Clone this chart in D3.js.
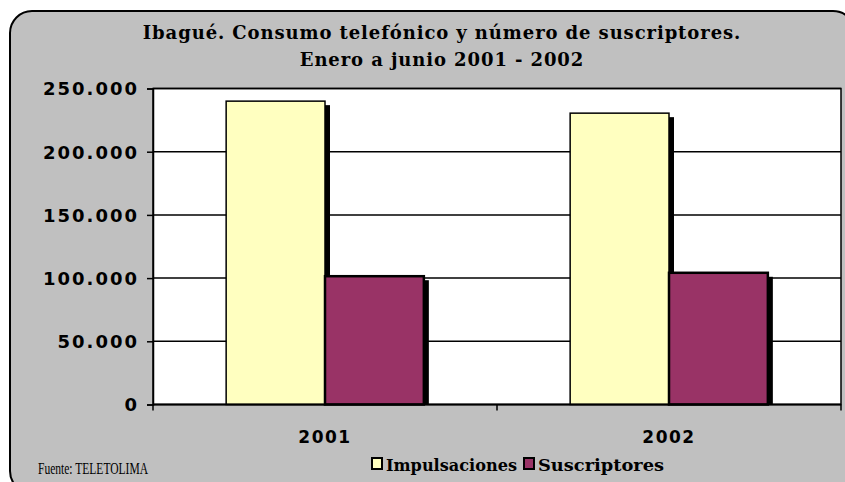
<!DOCTYPE html>
<meta charset="utf-8">
<style>
body{ margin:0; background:#fff; }
.titulo{ font-family:"DejaVu Serif", serif; font-weight:bold; font-size:18px; letter-spacing:0.9px; }
.eje text{ font-family:"DejaVu Sans", sans-serif; font-weight:bold; font-size:18px; letter-spacing:2px; }
</style>
<svg id="chart" width="845" height="482"></svg>
<script src="https://d3js.org/d3.v7.min.js"></script>
<script>

var years = ["2001","2002"];
var series = ["Impulsaciones","Suscriptores"];
var impulsaciones = [240000, 230500];
var suscriptores = [101500, 104200];
var yTicks = [0, 50000, 100000, 150000, 200000, 250000];
var colores = ["#ffffc0","#993366"];

var svg = d3.select("#chart");

// marco gris redondeado
svg.append("rect")
  .attr("x",10).attr("y",11)
  .attr("width",845).attr("height",482)
  .attr("rx",22).attr("ry",22)
  .attr("fill","#c0c0c0")
  .attr("stroke","#000")
  .attr("stroke-width",2);

svg.append("text").attr("class","titulo")
  .attr("x",442).attr("y",39).attr("text-anchor","middle")
  .text("Ibagué. Consumo telefónico y número de suscriptores.");
svg.append("text").attr("class","titulo")
  .attr("x",442).attr("y",66).attr("text-anchor","middle")
  .text("Enero a junio 2001 - 2002");

var pLeft = 153, pRight = 841, pTop = 88.5, pBottom = 404.5;

var y = d3.scaleLinear().domain([0,250000]).range([pBottom, pTop]);
var x0 = d3.scaleBand().domain(years).range([pLeft, pRight]).padding(0);
var x1 = d3.scaleBand().domain(series).range([0, x0.bandwidth()])
  .paddingInner(0).paddingOuter(0.74);

svg.append("rect")
  .attr("x",pLeft).attr("y",pTop)
  .attr("width",pRight-pLeft).attr("height",pBottom-pTop)
  .attr("fill","#fff")
  .attr("stroke","#000").attr("stroke-width",1.5);

// lineas de division
svg.append("g").selectAll("line")
  .data(yTicks.slice(1))
  .enter().append("line")
  .attr("x1",pLeft).attr("x2",pRight)
  .attr("y1",function(d){ return y(d); })
  .attr("y2",function(d){ return y(d); })
  .attr("stroke","#000").attr("stroke-width",1.5);

var datos = years.map(function(yr,i){
  return {year:yr, values:[impulsaciones[i], suscriptores[i]]};
});

var grupos = svg.append("g").selectAll("g")
  .data(datos)
  .enter().append("g")
  .attr("transform",function(d){ return "translate(" + x0(d.year) + ",0)"; });

// sombras
grupos.selectAll(".sombra")
  .data(function(d){ return d.values.map(function(v,j){ return {s:series[j], v:v}; }); })
  .enter().append("rect")
  .attr("class","sombra")
  .attr("x",function(d){ return x1(d.s) + 5; })
  .attr("y",function(d){ return y(d.v) + 4; })
  .attr("width",x1.bandwidth())
  .attr("height",function(d){ return Math.max(0, pBottom - y(d.v) - 4); })
  .attr("fill","#000");

grupos.selectAll(".barra")
  .data(function(d){ return d.values.map(function(v,j){ return {s:series[j], v:v, j:j}; }); })
  .enter().append("rect")
  .attr("class","barra")
  .attr("x",function(d){ return x1(d.s); })
  .attr("y",function(d){ return y(d.v); })
  .attr("width",x1.bandwidth())
  .attr("height",function(d){ return pBottom - y(d.v); })
  .attr("fill",function(d){ return colores[d.j]; })
  .attr("stroke","#000")
  .attr("stroke-width",function(d){ return d.j==1 ? 2.5 : 1.5; });

// eje y
var ejeY = svg.append("g").attr("class","eje")
  .attr("transform","translate(" + pLeft + ",0)")
  .call(d3.axisLeft(y).tickValues(yTicks).tickSize(6).tickPadding(8)
    .tickFormat(function(d){ return d3.format(",")(d).replace(/,/g,"."); }));
ejeY.select(".domain").attr("stroke-width",1.5);
ejeY.selectAll(".tick line").attr("stroke-width",1.5);
ejeY.selectAll("text").attr("dy","0.36em").attr("fill","#000");

// eje x: marcas en los limites de las categorias
svg.append("line")
  .attr("x1",pLeft).attr("x2",pRight)
  .attr("y1",pBottom).attr("y2",pBottom)
  .attr("stroke","#000").attr("stroke-width",2);
var bordes = years.map(function(d){ return x0(d); }).concat([pRight]);
svg.append("g").selectAll("line")
  .data(bordes)
  .enter().append("line")
  .attr("x1",function(d){ return d; }).attr("x2",function(d){ return d; })
  .attr("y1",pBottom).attr("y2",pBottom+6)
  .attr("stroke","#000").attr("stroke-width",1.5);

svg.append("g").attr("class","eje").selectAll("text")
  .data(years)
  .enter().append("text")
  .attr("x",function(d){ return x0(d) + x0.bandwidth()/2; })
  .attr("y",443)
  .attr("text-anchor","middle")
  .style("font-size","17px")
  .style("letter-spacing","1.5px")
  .text(function(d){ return d; });

// fuente
svg.append("text")
  .attr("x",38).attr("y",474)
  .attr("textLength",110).attr("lengthAdjust","spacingAndGlyphs")
  .style("font-family","'Liberation Serif', serif")
  .style("font-size","16px")
  .text("Fuente: TELETOLIMA");

// leyenda
var leyX = [372, 524];
var leyW = [131, 126];
var ley = svg.append("g").selectAll("g")
  .data(series)
  .enter().append("g")
  .attr("transform",function(d,i){ return "translate(" + leyX[i] + ",0)"; });
ley.append("rect")
  .attr("x",0).attr("y",458).attr("width",10).attr("height",11)
  .attr("fill",function(d,i){ return colores[i]; })
  .attr("stroke","#000").attr("stroke-width",2);
ley.append("text")
  .attr("x",14).attr("y",471)
  .attr("textLength",function(d,i){ return leyW[i]; })
  .attr("lengthAdjust","spacingAndGlyphs")
  .style("font-family","'DejaVu Serif', serif")
  .style("font-weight","bold")
  .style("font-size","16px")
  .text(function(d){ return d; });

</script>
